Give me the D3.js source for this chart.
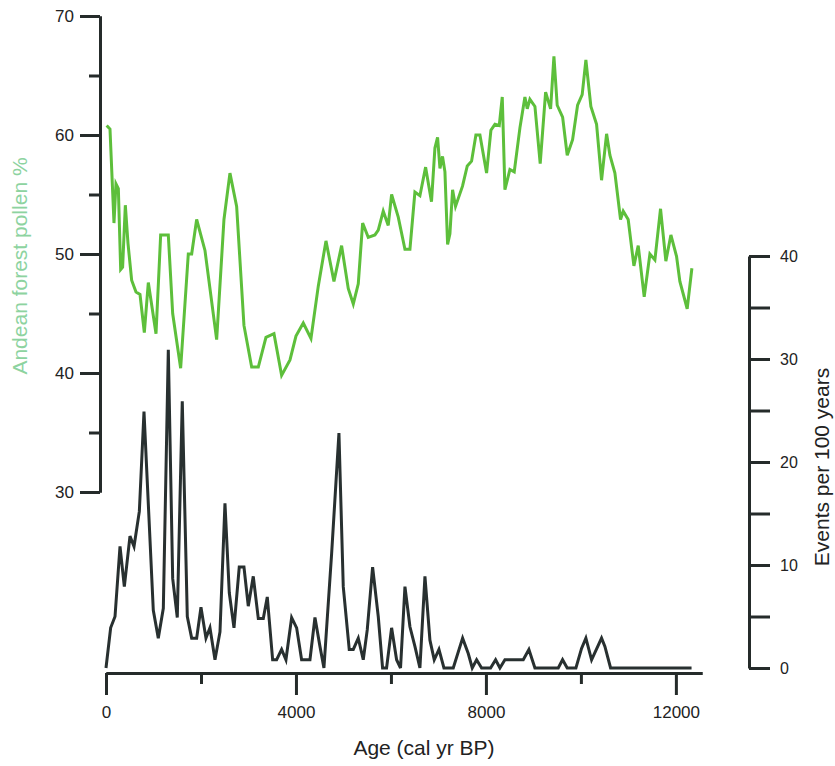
<!DOCTYPE html>
<html lang="en">

<head>
    <meta charset="UTF-8">
    <title>Andean forest pollen and events</title>
    <style>
        body { margin: 0; background: #fff; }
        text { font-family: "Liberation Sans", Arial, sans-serif; }
    </style>
</head>

<body>
    <div id="graph"></div>
    <script src="https://d3js.org/d3.v7.min.js"></script>

    <script>
        const WIDTH = 835;
        const HEIGHT = 766;
        const AXIS_COLOR = "#252b2a";
        const POLLEN_COLOR = "#5dbf3b";
        const EVENTS_COLOR = "#283030";

        // Andean forest pollen % (left axis)
        const POLLEN_AGE = [14, 84, 168, 210, 260, 309, 350, 407, 463, 540, 632, 716, 807, 891, 1053, 1151, 1312, 1404, 1572, 1733,
            1804, 1909, 2084, 2330, 2484, 2610, 2751, 2905, 3067, 3207, 3368, 3537, 3698, 3874, 4000, 4154, 4316, 4470, 4632, 4800,
            4961, 5101, 5207, 5312, 5404, 5522, 5663, 5733, 5838, 5943, 6014, 6154, 6295, 6400, 6505, 6610, 6730, 6854, 6926, 6982,
            7032, 7086, 7137, 7193, 7242, 7298, 7360, 7507, 7607, 7698, 7789, 7874, 8014, 8105, 8190, 8281, 8344, 8400, 8505, 8596,
            8716, 8821, 8870, 8926, 9032, 9143, 9257, 9362, 9432, 9501, 9615, 9712, 9825, 9930, 10027, 10105, 10210, 10330, 10435, 10541,
            10611, 10716, 10835, 10891, 10996, 11116, 11207, 11333, 11453, 11558, 11677, 11789, 11895, 12014, 12084, 12238, 12337];
        const POLLEN_PCT = [60.8, 60.5, 52.6, 55.9, 55.5, 48.7, 48.9, 54.1, 50.9, 47.8, 46.8, 46.6, 43.4, 47.6, 43.3, 51.6, 51.6, 45.0, 40.4, 50.0,
            50.0, 52.9, 50.3, 42.8, 52.9, 56.8, 54.0, 44.0, 40.5, 40.5, 43.0, 43.3, 39.8, 41.1, 43.1, 44.2, 42.9, 47.3, 51.1, 47.7,
            50.7, 47.1, 45.8, 47.5, 52.6, 51.4, 51.6, 52.0, 53.6, 52.4, 55.0, 53.1, 50.4, 50.4, 55.2, 54.9, 57.3, 54.4, 58.9, 59.8,
            57.2, 58.2, 56.9, 50.8, 51.7, 55.4, 54.0, 55.7, 57.4, 57.8, 60.0, 60.0, 56.8, 60.4, 60.9, 60.8, 63.2, 55.4, 57.1, 56.9,
            60.6, 63.2, 62.2, 63.0, 62.4, 57.6, 63.6, 62.2, 66.6, 62.5, 61.5, 58.3, 59.6, 62.5, 63.4, 66.3, 62.4, 60.9, 56.2, 60.1,
            58.3, 56.8, 52.9, 53.6, 52.9, 49.0, 50.7, 46.4, 50.0, 49.5, 53.8, 49.4, 51.6, 49.8, 47.7, 45.4, 48.8];

        // Events per 100 years (right axis)
        const EVENT_AGE = [0, 98, 190, 295, 386, 505, 590, 702, 800, 996, 1101, 1207, 1312, 1404, 1501, 1606, 1712, 1804, 1909, 2000,
            2105, 2189, 2295, 2400, 2505, 2596, 2695, 2806, 2905, 2996, 3101, 3207, 3312, 3396, 3509, 3593, 3698, 3789, 3909, 4014,
            4119, 4295, 4400, 4505, 4589, 4751, 4905, 4996, 5122, 5207, 5312, 5417, 5501, 5614, 5733, 5824, 5908, 6014, 6119, 6202,
            6295, 6400, 6505, 6610, 6716, 6821, 6912, 7011, 7116, 7312, 7509, 7628, 7712, 7804, 7909, 8098, 8204, 8295, 8400, 8786,
            8905, 9032, 9523, 9614, 9712, 9895, 10014, 10105, 10225, 10435, 10505, 10625, 12330];
        const EVENT_RATE = [0, 3.9, 5.0, 11.8, 7.9, 12.8, 11.8, 15.2, 24.9, 5.6, 2.9, 5.8, 30.9, 8.7, 4.9, 25.9, 5.0, 2.9, 2.9, 5.9,
            2.9, 3.9, 0.8, 3.5, 16.0, 7.3, 3.9, 9.8, 9.8, 6.0, 8.9, 4.8, 4.8, 6.9, 0.8, 0.8, 1.8, 0.8, 4.9, 3.9,
            0.8, 0.8, 4.9, 2.1, 0, 11.1, 22.8, 7.9, 1.8, 1.8, 2.9, 0.8, 3.7, 9.8, 5.0, 0, 0, 3.9, 0.8, 0,
            7.9, 4.0, 2.1, 0, 8.9, 2.7, 0.8, 1.8, 0, 0, 2.9, 1.4, 0, 0.8, 0, 0, 0.8, 0, 0.8, 0.8,
            1.8, 0, 0, 0.8, 0, 0, 1.9, 2.9, 0.8, 2.9, 2.1, 0, 0];

        const AGE_MAJOR = [0, 4000, 8000, 12000];
        const AGE_MINOR = [2000, 6000, 10000];
        const POLLEN_MAJOR = [30, 40, 50, 60, 70];
        const POLLEN_MINOR = [35, 45, 55, 65];
        const EVENT_TICKS = [0, 5, 10, 15, 20, 25, 30, 35, 40];

        const xScale = d3.scaleLinear().domain([0, 12550]).range([106, 702]);
        const yPollen = d3.scaleLinear().domain([30, 70]).range([492, 16]);
        const yEvents = d3.scaleLinear().domain([0, 40]).range([668, 256]);

        const svg = d3.select("#graph")
            .append("svg")
            .attr("width", WIDTH)
            .attr("height", HEIGHT);

        function styleAxis(g, fontSize) {
            g.selectAll("path, line")
                .attr("stroke", AXIS_COLOR)
                .attr("stroke-width", 3);
            g.selectAll("text")
                .attr("fill", "#222")
                .style("font-size", fontSize + "px")
                .style("font-family", '"Liberation Sans", Arial, sans-serif');
        }

        // bottom axis
        svg.append("g")
            .attr("transform", "translate(0, 673)")
            .call(d3.axisBottom(xScale).tickValues(AGE_MAJOR).tickSize(22).tickSizeOuter(0)
                .tickPadding(11).tickFormat(d3.format("d")))
            .call(g => styleAxis(g, 17));
        svg.append("g")
            .attr("transform", "translate(0, 673)")
            .call(d3.axisBottom(xScale).tickValues(AGE_MINOR).tickSize(11).tickSizeOuter(0).tickFormat(""))
            .call(g => styleAxis(g, 17));

        // left axis
        svg.append("g")
            .attr("transform", "translate(100, 0)")
            .call(d3.axisLeft(yPollen).tickValues(POLLEN_MAJOR).tickSize(20).tickSizeOuter(0).tickPadding(6))
            .call(g => styleAxis(g, 17));
        svg.append("g")
            .attr("transform", "translate(100, 0)")
            .call(d3.axisLeft(yPollen).tickValues(POLLEN_MINOR).tickSize(11).tickSizeOuter(0).tickFormat(""))
            .call(g => styleAxis(g, 17));

        // right axis
        svg.append("g")
            .attr("transform", "translate(749, 0)")
            .call(d3.axisRight(yEvents).tickValues(EVENT_TICKS).tickSize(21).tickSizeOuter(0).tickPadding(10)
                .tickFormat(d => d % 10 === 0 ? d : ""))
            .call(g => styleAxis(g, 16));

        // lines
        const pollenLine = d3.line()
            .x((d, i) => xScale(POLLEN_AGE[i]))
            .y(d => yPollen(d));
        svg.append("path")
            .datum(POLLEN_PCT)
            .attr("d", pollenLine)
            .attr("fill", "none")
            .attr("stroke", POLLEN_COLOR)
            .attr("stroke-width", 3)
            .attr("stroke-linejoin", "miter");

        const eventLine = d3.line()
            .x((d, i) => xScale(EVENT_AGE[i]))
            .y(d => yEvents(d));
        svg.append("path")
            .datum(EVENT_RATE)
            .attr("d", eventLine)
            .attr("fill", "none")
            .attr("stroke", EVENTS_COLOR)
            .attr("stroke-width", 3)
            .attr("stroke-linejoin", "miter");

        // titles
        svg.append("text")
            .attr("x", 424)
            .attr("y", 755)
            .attr("text-anchor", "middle")
            .attr("fill", "#222")
            .style("font-size", "21px")
            .text("Age (cal yr BP)");

        svg.append("text")
            .attr("transform", "translate(27, 266) rotate(-90)")
            .attr("text-anchor", "middle")
            .attr("fill", "#8dd3a0")
            .style("font-size", "21px")
            .text("Andean forest pollen %");

        svg.append("text")
            .attr("transform", "translate(829, 467) rotate(-90)")
            .attr("text-anchor", "middle")
            .attr("fill", "#222")
            .style("font-size", "21px")
            .text("Events per 100 years");
    </script>
</body>

</html>
